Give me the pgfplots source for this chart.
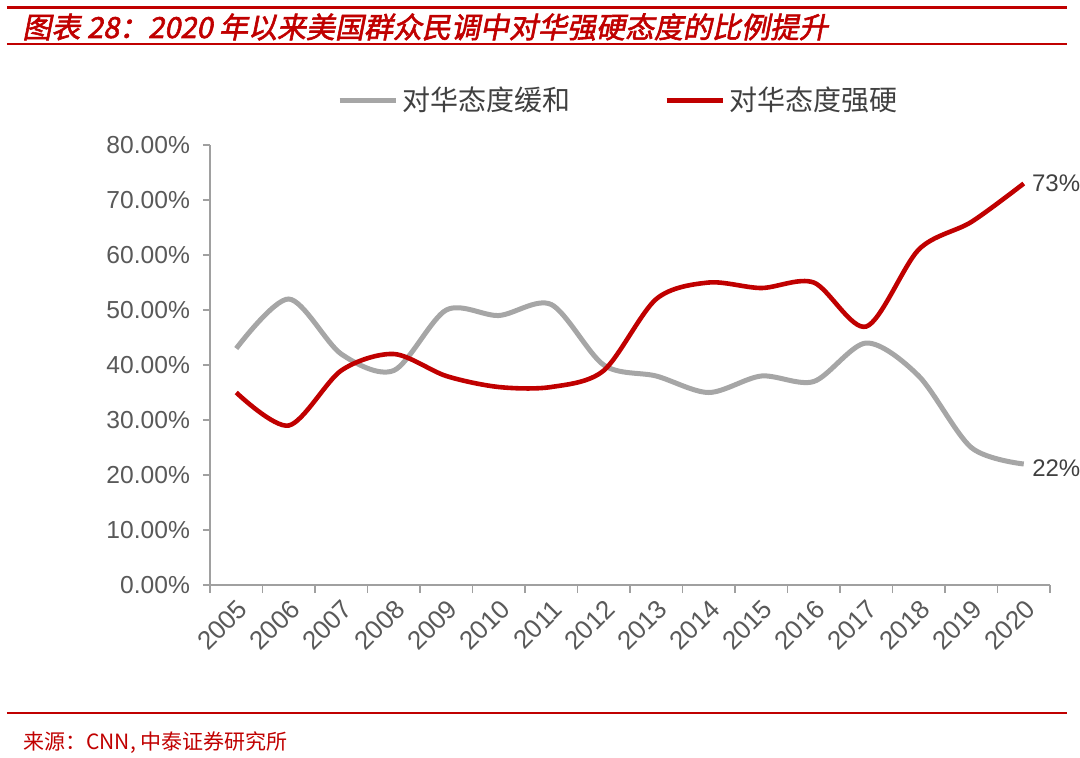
\documentclass[border=0pt]{standalone}
\usepackage{fontspec}
\setmainfont{Liberation Sans}
\newfontfamily\cjk{Noto Sans CJK SC}
\newfontfamily\cjktitle[FakeSlant=0.2,FakeBold=2]{Noto Sans CJK SC}
\usepackage{pgfplots}
\pgfplotsset{compat=1.18}

\definecolor{zred}{HTML}{C00000}
\definecolor{zgray}{HTML}{A6A6A6}
\definecolor{axgray}{HTML}{A0A0A0}
\definecolor{tickgray}{HTML}{595959}
\definecolor{txtgray}{HTML}{404040}

\begin{document}
\begin{tikzpicture}
% page frame: 1 px of the reference = 0.5pt, axis corner at (0,0)
\useasboundingbox (-105pt,-86pt) rectangle (435pt,292.5pt);

\draw[zred, line width=1.5pt] (-101.5pt,289pt) -- (428.5pt,289pt);
\draw[zred, line width=0.8pt] (-101.5pt,270.5pt) -- (428.5pt,270.5pt);
\node[anchor=west, text=zred, inner sep=0, font=\cjktitle\fontsize{14.5}{17}\selectfont]
  at (-94pt,279pt) {图表 28：2020 年以来美国群众民调中对华强硬态度的比例提升};
\draw[zred, line width=1pt] (-101.5pt,-64pt) -- (428.5pt,-64pt);
\node[anchor=west, text=zred, inner sep=0, font=\cjk\fontsize{10.5}{12}\selectfont]
  at (-93.5pt,-79pt) {来源：CNN, 中泰证券研究所};

\begin{axis}[
    at={(0,0)}, anchor=south west,
    scale only axis, width=420pt, height=220pt,
    xmin=-0.5, xmax=15.5, ymin=0, ymax=80,
    clip=false,
    axis x line*=bottom, axis y line*=left,
    axis line style={-, draw=axgray, line width=0.9pt},
    tick style={draw=axgray, line width=0.9pt},
    tick align=outside,
    xtick={0,...,15},
    xticklabels={2005,2006,2007,2008,2009,2010,2011,2012,2013,2014,2015,2016,2017,2018,2019,2020},
    major x tick style={draw=none},
    minor xtick={-0.5,0.5,...,15.5},
    minor tick length=4pt,
    major tick length=3.5pt,
    ytick={0,10,...,80},
    yticklabel={\pgfmathprintnumber[fixed,fixed zerofill,precision=2]{\tick}\%},
    /pgf/number format/assume math mode=true,
    every tick label/.append style={font=\fontsize{12.3}{14}\selectfont, text=tickgray},
    yticklabel style={xshift=-3pt},
    xticklabel style={rotate=45, anchor=north east, inner sep=2pt,
      font=\fontsize{13}{15}\selectfont},
    legend style={at={(0.487,1.102)}, anchor=center, draw=none, fill=none,
      legend columns=2, font=\cjk\fontsize{14}{16}\selectfont, text=txtgray,
      /tikz/every even column/.append style={column sep=45pt}},
    legend image code/.code={\draw[#1, line width=2.5pt] (0pt,0pt) -- (28pt,0pt);},
  ]
  \addplot[zgray, line width=2.5pt, smooth, no markers] coordinates {
    (0,43) (1,52) (2,42) (3,39) (4,50) (5,49) (6,51) (7,40)
    (8,38) (9,35) (10,38) (11,37) (12,44) (13,38) (14,25) (15,22)
  } node[pos=1, anchor=west, inner sep=1pt, xshift=2pt, yshift=-2pt, text=txtgray, font=\fontsize{12}{14}\selectfont] {22\%};
  \addlegendentry{对华态度缓和}
  \addplot[zred, line width=2.3pt, smooth, no markers] coordinates {
    (0,35) (1,29) (2,39) (3,42) (4,38) (5,36) (6,36) (7,39)
    (8,52) (9,55) (10,54) (11,55) (12,47) (13,61) (14,66) (15,73)
  } node[pos=1, anchor=west, inner sep=1pt, xshift=2pt, text=txtgray, font=\fontsize{12}{14}\selectfont] {73\%};
  \addlegendentry{对华态度强硬}
\end{axis}
\end{tikzpicture}
\end{document}
